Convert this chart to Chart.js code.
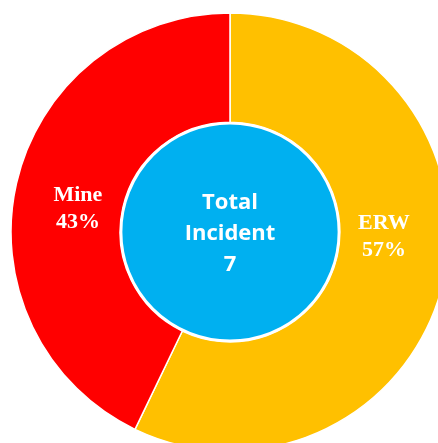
<!DOCTYPE html>
<html>
<head>
<meta charset="utf-8">
<script src="https://cdn.jsdelivr.net/npm/chart.js@4"></script>
<style>
  html, body { margin: 0; padding: 0; background: #fff; overflow: hidden; }
  #wrap { position: relative; width: 438px; height: 443px; overflow: hidden; }
  #grafico { position: absolute; left: 10px; top: 12px; }
</style>
</head>
<body>
<div id="wrap">
  <canvas id="grafico" width="440" height="440"></canvas>
</div>
<script>
// dados do gráfico
const categorias = ["ERW", "Mine"];
const incidentes = [4, 3];
const cores = ["#FFC000", "#FF0000"];
const tituloCentro = ["Total", "Incident"];

const total = incidentes.reduce((a, b) => a + b, 0);

// círculo azul no meio + texto
const centroAzul = {
  id: "centroAzul",
  afterDatasetsDraw(chart) {
    const arco = chart.getDatasetMeta(0).data[0];
    const ctx = chart.ctx;
    const cx = arco.x;
    const cy = arco.y;
    ctx.save();
    ctx.beginPath();
    ctx.arc(cx, cy, arco.innerRadius - 1, 0, Math.PI * 2);
    ctx.fillStyle = "#00B0F0";
    ctx.fill();
    ctx.lineWidth = 2.5;
    ctx.strokeStyle = "#fff";
    ctx.stroke();

    ctx.fillStyle = "#fff";
    ctx.textAlign = "center";
    ctx.textBaseline = "middle";
    ctx.font = "bold 22px 'Open Sans'";
    const linhas = tituloCentro.concat([String(total)]);
    linhas.forEach((linha, i) => {
      ctx.fillText(linha, cx, cy - 29 + i * 31);
    });
    ctx.restore();
  },
};

// rótulos das fatias
const rotulos = {
  id: "rotulos",
  afterDatasetsDraw(chart, args, opts) {
    const meta = chart.getDatasetMeta(0);
    const ctx = chart.ctx;
    ctx.save();
    ctx.fillStyle = "#fff";
    ctx.textAlign = "center";
    ctx.textBaseline = "middle";
    ctx.font = "bold 22px 'Liberation Serif'";
    meta.data.forEach((arco, i) => {
      const ang = (opts.angulos[i] * Math.PI) / 180;
      const r = opts.raio;
      const x = arco.x + r * Math.sin(ang);
      const y = arco.y - r * Math.cos(ang);
      const pct = Math.round((incidentes[i] / total) * 100) + "%";
      ctx.fillText(categorias[i], x, y - 13);
      ctx.fillText(pct, x, y + 14);
    });
    ctx.restore();
  },
};

const grafico = new Chart(document.getElementById("grafico"), {
  type: "doughnut",
  data: {
    labels: categorias,
    datasets: [
      {
        data: incidentes,
        backgroundColor: cores,
        borderColor: "#fff",
        borderWidth: 1.5,
      },
    ],
  },
  options: {
    responsive: false,
    animation: false,
    radius: 219,
    cutout: 110,
    layout: { padding: 0 },
    plugins: {
      legend: { display: false },
      tooltip: { enabled: false },
      rotulos: { angulos: [91.5, 279], raio: 154 },
    },
  },
  plugins: [centroAzul, rotulos],
});
</script>
</body>
</html>
